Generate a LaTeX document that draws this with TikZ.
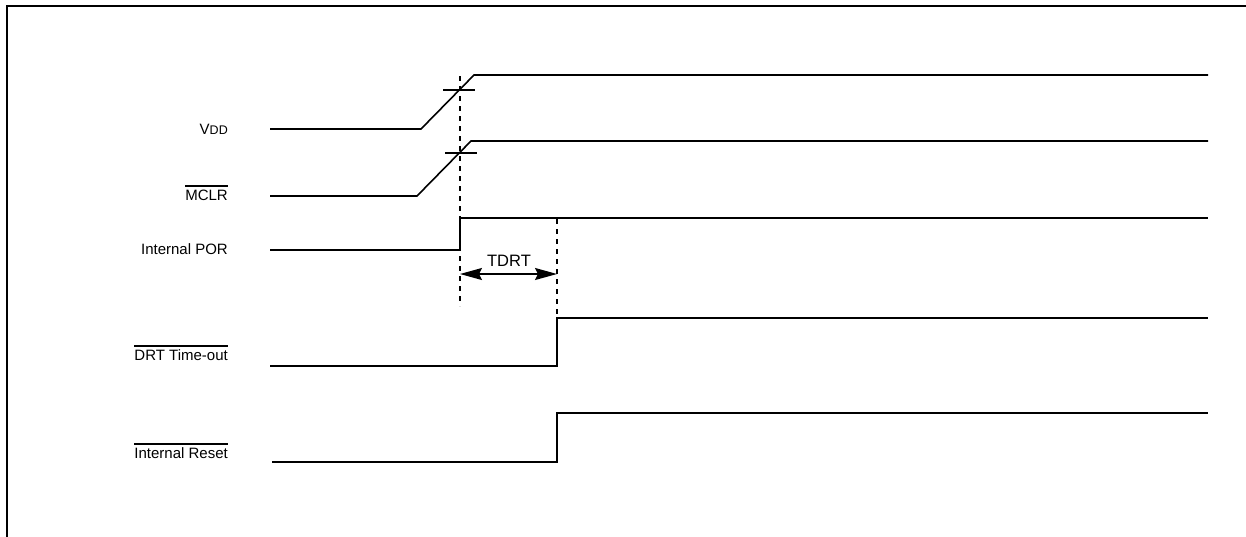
\documentclass[tikz,border=0pt]{standalone}
\usepackage{fontspec}
\setmainfont{Liberation Sans}
\usetikzlibrary{arrows.meta}
\newcommand\ovl[1]{\leavevmode\vbox{\hrule height 1.6pt\kern 2.6pt\hbox{#1}}}
\begin{document}
\begin{tikzpicture}[x=1pt,y=-1pt,
  sig/.style={line width=1.6pt},
  dsh/.style={line width=1.6pt,dash pattern=on 5pt off 5pt},
  lbl/.style={anchor=base east,inner sep=0pt,font=\fontsize{15}{15}\selectfont},
  frame/.style={line width=2pt}]
\useasboundingbox (0,0) rectangle (1246,536);
\fill[white] (0,0) rectangle (1246,536);
\draw[frame] (7,540) -- (7,6) -- (1250,6);
% labels
\node[lbl] (lvdd) at (228,134) {V{\fontsize{12.5}{12.5}\selectfont DD}};
\node[lbl] (lmclr) at (228,200) {\ovl{MCLR}};
\node[lbl] (lpor) at (228,254) {Internal POR};
\node[lbl] (ldrt) at (228,360) {\ovl{DRT Time-out}};
\node[lbl] (lrst) at (228,458) {\ovl{Internal Reset}};
% coordinates
\coordinate (v0) at (270,129); \coordinate (v1) at (421,129); \coordinate (v2) at (474,75); \coordinate (v3) at (1208,75);
\coordinate (m0) at (270,196); \coordinate (m1) at (417,196); \coordinate (m2) at (471,141); \coordinate (m3) at (1208,141);
\coordinate (p0) at (270,250); \coordinate (p1) at (460,250); \coordinate (p2) at (460,218); \coordinate (p3) at (1208,218);
\coordinate (d0) at (270,366); \coordinate (d1) at (557,366); \coordinate (d2) at (557,318); \coordinate (d3) at (1208,318);
\coordinate (r0) at (272,462); \coordinate (r1) at (557,462); \coordinate (r2) at (557,413); \coordinate (r3) at (1208,413);
% signals
\draw[sig] (v0) -- (v1) -- (v2) -- (v3);
\draw[sig] (m0) -- (m1) -- (m2) -- (m3);
\draw[sig] (p0) -- (p1) -- (p2) -- (p3);
\draw[sig] (d0) -- (d1) -- (d2) -- (d3);
\draw[sig] (r0) -- (r1) -- (r2) -- (r3);
% ticks
\coordinate (tv0) at (443,90); \coordinate (tv1) at (475,90);
\coordinate (tm0) at (445,153); \coordinate (tm1) at (477,153);
\draw[sig] (tv0) -- (tv1);
\draw[sig] (tm0) -- (tm1);
% dashed markers
\coordinate (da0) at (460,76); \coordinate (da1) at (460,306);
\coordinate (db0) at (557,219); \coordinate (db1) at (557,318);
\draw[dsh] (da0) -- (da1);
\draw[dsh] (db0) -- (db1);
% TDRT arrow
\coordinate (a0) at (460,274); \coordinate (a1) at (557,274);
\draw[line width=1.6pt,{Stealth[length=22pt,width=12pt,inset=3pt]}-{Stealth[length=22pt,width=12pt,inset=3pt]}] (a0) -- (a1);
\node[lbl,anchor=base,font=\fontsize{16.5}{16.5}\selectfont] (tdrt) at (509,266) {TDRT};
\end{tikzpicture}
\end{document}
